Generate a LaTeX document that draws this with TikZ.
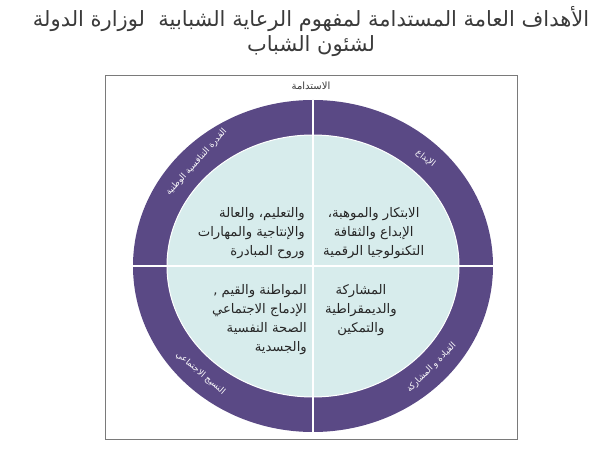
\documentclass[tikz,border=0pt]{standalone}
\usepackage{fontspec}
\usetikzlibrary{positioning, shapes.geometric, calc}
\newfontfamily\arabicfont[Script=Arabic]{DejaVu Sans}
\TeXXeTstate=1
\definecolor{ringpurple}{HTML}{5A4985}
\definecolor{corecyan}{HTML}{D7ECEC}
\definecolor{titlegray}{HTML}{3A3A3A}
\definecolor{framegray}{HTML}{7A7A7A}

\begin{document}
\begin{tikzpicture} [x = 1pt, y = 1pt,
        ringlabel/.style = {text = white, inner sep = 0pt,
            font = \arabicfont\fontsize{8.6}{9}\selectfont},
        quadtext/.style = {text = black!85, inner sep = 0pt,
            font = \arabicfont\fontsize{13.2}{19.2}\selectfont},
        divider/.style = {white, line width = 1.8pt}]

        \useasboundingbox (0,0) rectangle (608,450);

        \node (title) [text = titlegray, align = center,
            font = \arabicfont\fontsize{21}{25}\selectfont] at (311,418)
            {\beginR الأهداف العامة المستدامة لمفهوم الرعاية الشبابية\ \ لوزارة الدولة\endR\\
            \beginR لشئون الشباب\endR};

        \node (frame) [draw = framegray, line width = 1pt, minimum width = 412,
            minimum height = 364] at (311,192) {};
        \node (sustain) [text = titlegray, below = 6pt of frame.north,
            font = \arabicfont\fontsize{10}{11}\selectfont, inner sep = 0pt]
            {\beginR الاستدامة\endR};

        \node (ring) [ellipse, fill = ringpurple, inner sep = 0pt, outer sep = 0pt,
            minimum width = 360, minimum height = 332] at (313,184) {};
        \node (core) [ellipse, fill = corecyan, draw = white, line width = 1pt,
            inner sep = 0pt, outer sep = 0pt, minimum width = 292,
            minimum height = 262] at (ring.center) {};

        \draw [divider] (ring.west) -- (ring.east) (ring.north) -- (ring.south);

        % ring labels
        \node (lblnw) [ringlabel, rotate = 48] at ($(ring.center)+(136:162 and 149)$)
            {\beginR القدرة التنافسية الوطنية\endR};
        \node (lblne) [ringlabel, rotate = -38] at ($(ring.center)+(46:162 and 149)$)
            {\beginR الإبداع\endR};
        \node (lblsw) [ringlabel, rotate = -40] at ($(ring.center)+(-134:162 and 149)$)
            {\beginR النسيج الاجتماعي\endR};
        \node (lblse) [ringlabel, rotate = 45] at ($(ring.center)+(-43:162 and 149)$)
            {\beginR القيادة و المشاركة\endR};

        % quadrant texts
        \node (txtnw) [quadtext, align = right, above left = 7pt and 8pt of core.center]
            {\beginR والتعليم، والعالة\endR\\ \beginR والإنتاجية والمهارات\endR\\
            \beginR وروح المبادرة\endR};
        \node (txtne) [quadtext, align = center, above right = 7pt and 10pt of core.center]
            {\beginR الابتكار والموهبة،\endR\\ \beginR الإبداع والثقافة\endR\\
            \beginR التكنولوجيا الرقمية\endR};
        \node (txtsw) [quadtext, align = right, below left = 18pt and 6pt of core.center]
            {\beginR المواطنة والقيم ,\endR\\ \beginR الإدماج الاجتماعي\endR\\
            \beginR الصحة النفسية\endR\\ \beginR والجسدية\endR};
        \node (txtse) [quadtext, align = center, below right = 18pt and 12pt of core.center]
            {\beginR المشاركة\endR\\ \beginR والديمقراطية\endR\\ \beginR والتمكين\endR};
    \end{tikzpicture}
\end{document}
